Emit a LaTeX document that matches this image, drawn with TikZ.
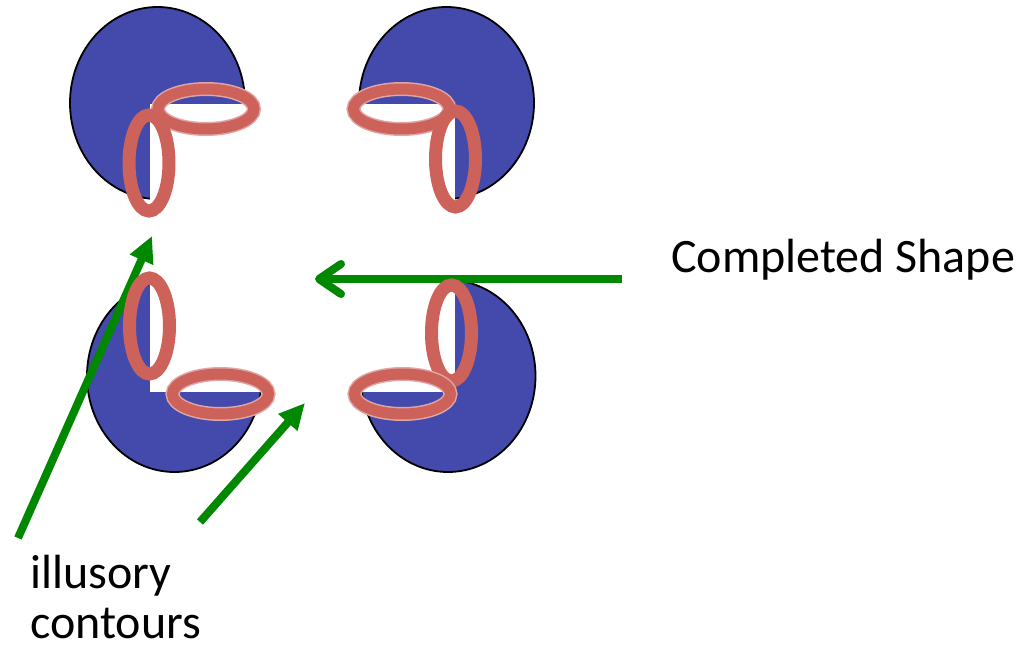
\documentclass[tikz,border=0pt]{standalone}
\usepackage{fontspec}
\setmainfont{Carlito}
\usepackage{tikz}
\usetikzlibrary{shapes.geometric, arrows.meta}
\definecolor{pacblue}{RGB}{67,74,171}
\definecolor{ringred}{RGB}{205,98,90}
\definecolor{ringhalo}{RGB}{224,165,165}
\definecolor{arrowgreen}{RGB}{0,136,0}
\tikzstyle{pacman} = [ellipse, draw=black, line width=1.8pt, fill=pacblue, minimum width=175pt, minimum height=192pt, inner sep=0pt]
\tikzstyle{notch} = [fill=white]
\tikzstyle{vring} = [ellipse, draw=ringred, line width=13pt, minimum width=40pt, minimum height=96pt, inner sep=0pt]
\tikzstyle{hring} = [ellipse, draw=ringhalo, line width=1.5pt, double=ringred, double distance=11pt, minimum width=96pt, minimum height=40pt, inner sep=0pt]
\tikzstyle{arrow} = [draw=arrowgreen, line width=8pt, -{Triangle[length=26pt,width=24pt]}]
\tikzstyle{openarrow} = [draw=arrowgreen, line width=8pt, -{Straight Barb[length=22pt,width=30pt,round]}]
\tikzstyle{labeltext} = [font=\fontsize{48}{50}\selectfont, inner sep=0pt, align=left]

\begin{document}
\begin{tikzpicture}[x=1pt, y=-1pt]
                \useasboundingbox (0,0) rectangle (1022,653);
                \node (tl) [pacman] at (157.5,103) {};
                \node (tr) [pacman] at (446.5,103) {};
                \node (bl) [pacman] at (174.5,376) {};
                \node (br) [pacman] at (448,376) {};
                \fill [notch] (150,104) rectangle (252,210);
                \fill [notch] (455,104) rectangle (350,210);
                \fill [notch] (150,392) rectangle (270,270);
                \fill [notch] (455,392) rectangle (350,270);
                \coordinate (longtail) at (18,538);
                \coordinate (longtip) at (152,236);
                \coordinate (shorttail) at (200,522);
                \coordinate (shorttip) at (305,403);
                \coordinate (shapetail) at (622,279);
                \coordinate (shapetip) at (315,279);
                \draw [arrow] (longtail) -- (longtip);
                \draw [arrow] (shorttail) -- (shorttip);
                \draw [openarrow] (shapetail) -- (shapetip);
                \node (tlh) [hring] at (206,109) {};
                \node (tlv) [vring] at (149,163) {};
                \node (trh) [hring] at (401.5,109) {};
                \node (trv) [vring] at (455.5,159) {};
                \node (blv) [vring] at (149.5,326) {};
                \node (blh) [hring] at (220.5,394) {};
                \node (brv) [vring] at (451.5,333) {};
                \node (brh) [hring] at (402.5,394) {};
                \node (completed) [labeltext, anchor=base west] at (671,272) {Completed Shape};
                \node (illusory) [labeltext, anchor=base west] at (30,638) {illusory\\contours};
\end{tikzpicture}
\end{document}
